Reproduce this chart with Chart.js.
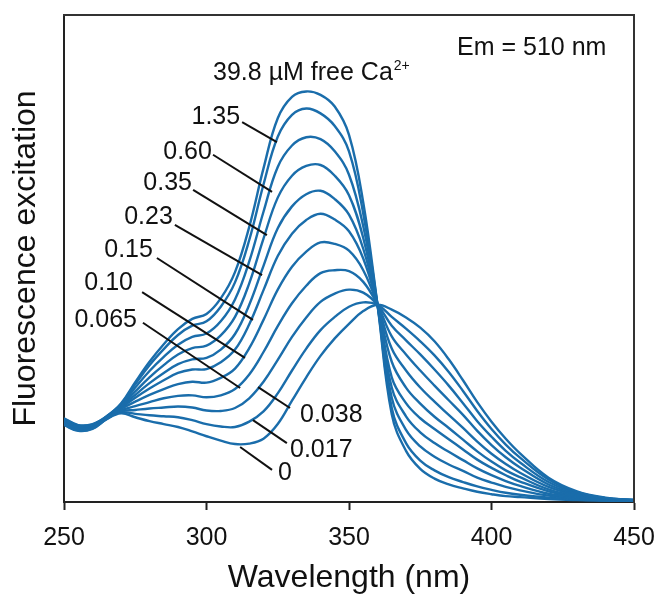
<!DOCTYPE html>
<html>
<head>
<meta charset="utf-8">
<script src="https://cdn.jsdelivr.net/npm/chart.js@4.4.1/dist/chart.umd.min.js"></script>
<style>
  html, body { margin: 0; padding: 0; background: #fff; }
</style>
</head>
<body>
<canvas id="grafico" width="659" height="594"></canvas>
<script>
// Longitudes de onda (nm)
const longitudes = [250,255,260,265,270,275,280,285,290,295,300,305,310,315,320,325,330,335,340,345,350,355,360,365,370,375,380,385,390,395,400,405,410,420,430,440,450];

// Espectros de excitación para cada concentración de Ca2+ libre (µM)
const ca0    = [15.8,14.6,15.0,17.0,18.2,17.4,16.6,16.0,15.4,14.5,13.5,12.6,11.9,12.0,13.0,16.0,20.8,25.6,30.0,33.6,36.6,39.2,40.5,39.5,37.9,35.8,33.0,29.3,25.0,20.5,16.5,13.0,10.0,5.0,2.2,0.9,0.4];
const ca0017 = [15.9,14.7,15.1,17.1,18.4,18.1,17.8,17.6,17.4,16.8,16.0,15.5,15.4,16.5,18.6,22.3,27.0,31.5,35.3,38.0,40.1,41.0,40.5,38.0,35.6,33.0,30.1,26.7,22.8,18.7,15.0,11.8,9.1,4.6,2.0,0.8,0.4];
const ca0038 = [16.1,14.9,15.2,17.1,18.6,18.9,19.2,19.4,19.6,19.4,18.8,18.7,19.3,21.3,24.7,29.2,33.9,37.9,41.1,42.8,43.6,43.0,40.5,36.2,33.2,30.3,27.2,23.9,20.3,16.6,13.4,10.5,8.1,4.1,1.8,0.8,0.4];
const ca0065 = [16.2,15.0,15.3,17.2,18.8,19.7,20.5,21.3,21.8,21.9,21.5,21.9,23.2,26.2,30.8,36.1,40.8,44.4,47.0,47.6,47.4,45.2,40.5,34.0,30.3,27.0,23.9,20.9,17.9,14.6,11.7,9.2,7.1,3.6,1.6,0.7,0.3];
const ca010  = [16.4,15.1,15.4,17.3,19.1,20.6,22.0,23.2,24.2,24.7,24.5,25.5,27.4,31.6,37.4,43.6,48.3,51.4,53.3,53.0,51.6,47.6,40.5,31.5,27.0,23.5,20.6,17.9,15.2,12.4,9.9,7.8,6.0,3.1,1.4,0.6,0.3];
const ca015  = [16.6,15.3,15.6,17.3,19.3,21.4,23.3,25.0,26.5,27.2,27.3,28.7,31.3,36.5,43.5,50.5,55.1,57.9,59.2,58.0,55.6,50.0,40.5,28.8,23.5,20.2,17.5,15.2,12.8,10.4,8.3,6.5,5.1,2.6,1.2,0.6,0.3];
const ca023  = [16.7,15.4,15.6,17.4,19.5,22.0,24.4,26.5,28.3,29.3,29.6,31.3,34.5,40.5,48.5,56.2,60.7,63.2,63.9,62.2,59.0,52.0,40.5,25.6,20.3,17.2,15.0,12.9,10.8,8.7,7.0,5.5,4.2,2.2,1.0,0.5,0.3];
const ca035  = [16.8,15.5,15.7,17.4,19.7,22.7,25.6,28.1,30.3,31.6,32.1,34.2,38.0,44.9,54.1,62.5,67.0,69.0,69.2,67.0,63.0,54.2,40.5,23.5,17.6,14.3,12.1,10.3,8.6,6.9,5.5,4.3,3.3,1.7,0.9,0.5,0.3];
const ca060  = [17.0,15.6,15.8,17.5,19.9,23.5,26.9,29.8,32.3,33.9,34.6,37.1,41.6,49.4,59.6,68.8,73.2,74.9,74.5,72.0,67.2,56.6,40.5,21.4,14.8,11.4,9.3,7.7,6.4,5.0,4.0,3.1,2.4,1.3,0.7,0.4,0.2];
const ca135  = [17.1,15.7,15.9,17.6,20.1,24.2,28.1,31.4,34.3,36.2,37.1,40.1,45.1,53.8,65.2,75.0,79.5,80.8,79.8,77.2,72.0,59.2,40.5,19.3,12.1,8.5,6.5,5.1,4.1,3.2,2.5,1.9,1.5,0.9,0.5,0.3,0.2];
const ca398  = [17.2,15.8,16.0,17.6,20.2,24.6,28.8,32.4,35.5,37.6,38.6,41.8,47.2,56.5,68.5,78.8,83.2,84.3,83.6,81.2,75.4,61.5,40.5,18.0,10.5,6.8,4.8,3.6,2.8,2.1,1.6,1.2,1.0,0.6,0.4,0.3,0.2];

const nombresSeries = ['0','0.017','0.038','0.065','0.10','0.15','0.23','0.35','0.60','1.35','39.8'];
const valoresSeries = [ca0, ca0017, ca0038, ca0065, ca010, ca015, ca023, ca035, ca060, ca135, ca398];

// Etiquetas de las curvas (texto) y su colocación en unidades de datos
const etiquetasCurvas = ['1.35','0.60','0.35','0.23','0.15','0.10','0.065','0.038','0.017','0'];
const posEtiquetas = [
    [311.8, 79.1, 'right'], [301.9, 71.9, 'right'], [294.9, 65.5, 'right'], [288.2, 58.5, 'right'],
    [281.2, 51.7, 'right'], [274.2, 45.0, 'right'], [275.6, 37.4, 'right'],
    [332.8, 17.9, 'left'], [329.3, 10.7, 'left'], [325.1, 6.0, 'left']
];
// Líneas guía: x1, y1, x2, y2 (datos)
const lineasGuia = [
    [312.5, 78.0, 324.7, 73.9], [302.3, 71.3, 323.0, 63.7], [295.3, 64.1, 321.2, 54.8],
    [288.9, 56.9, 319.5, 46.6], [282.6, 50.1, 316.3, 37.4], [277.4, 43.1, 313.5, 29.6],
    [277.7, 36.8, 311.8, 23.4], [318.1, 23.6, 329.3, 19.3], [316.3, 16.8, 328.2, 12.1],
    [311.8, 11.3, 323.0, 6.6]
];

const fuente = '"Liberation Sans", Arial, Helvetica, sans-serif';
const azul = '#1a6dab';

// Plugin: marco superior/derecho, líneas guía y textos
const anotaciones = {
    id: 'anotaciones',
    afterDatasetsDraw(chart) {
        const { ctx, chartArea: a, scales: { x, y } } = chart;
        ctx.save();

        ctx.strokeStyle = '#333';
        ctx.lineWidth = 2;
        ctx.beginPath();
        ctx.moveTo(a.left - 1, a.top);
        ctx.lineTo(a.right, a.top);
        ctx.lineTo(a.right, a.bottom + 1);
        ctx.stroke();

        ctx.strokeStyle = '#111';
        ctx.lineWidth = 2;
        lineasGuia.forEach(l => {
            ctx.beginPath();
            ctx.moveTo(x.getPixelForValue(l[0]), y.getPixelForValue(l[1]));
            ctx.lineTo(x.getPixelForValue(l[2]), y.getPixelForValue(l[3]));
            ctx.stroke();
        });

        ctx.fillStyle = '#111';
        ctx.textBaseline = 'middle';
        ctx.font = '25px ' + fuente;
        etiquetasCurvas.forEach((t, i) => {
            const p = posEtiquetas[i];
            ctx.textAlign = p[2];
            ctx.fillText(t, x.getPixelForValue(p[0]), y.getPixelForValue(p[1]));
        });

        // 39.8 µM free Ca2+
        ctx.textAlign = 'left';
        ctx.font = '25px ' + fuente;
        const tx = x.getPixelForValue(302.3), ty = y.getPixelForValue(88.1);
        const principal = '39.8 µM free Ca';
        ctx.fillText(principal, tx, ty);
        const w = ctx.measureText(principal).width;
        ctx.font = '14px ' + fuente;
        ctx.fillText('2+', tx + w + 1, ty - 7);

        ctx.font = '25px ' + fuente;
        ctx.fillText('Em = 510 nm', x.getPixelForValue(387.9), y.getPixelForValue(93.2));

        ctx.restore();
    }
};

let miGrafico = null;

function crearGrafico() {
    const ctx = document.getElementById('grafico').getContext('2d');
    if (miGrafico) {
        miGrafico.destroy();
    }
    miGrafico = new Chart(ctx, {
        type: 'line',
        data: {
            datasets: valoresSeries.map((vals, i) => ({
                label: nombresSeries[i],
                data: longitudes.map((l, j) => ({ x: l, y: vals[j] })),
                borderColor: azul,
                borderWidth: 2.4,
                pointRadius: 0,
                fill: false,
                tension: 0.4
            }))
        },
        options: {
            responsive: false,
            animation: false,
            layout: { padding: { top: 15, right: 25, left: 0, bottom: 0 } },
            plugins: { legend: { display: false }, tooltip: { enabled: false } },
            scales: {
                x: {
                    type: 'linear',
                    min: 250,
                    max: 450,
                    ticks: { stepSize: 50, padding: 13, color: '#111', font: { family: fuente, size: 25 } },
                    grid: { display: true, drawOnChartArea: false, tickLength: 8, tickWidth: 2, tickColor: '#222' },
                    border: { display: true, color: '#222', width: 2 },
                    title: {
                        display: true,
                        text: 'Wavelength (nm)',
                        color: '#111',
                        font: { family: fuente, size: 32, lineHeight: 1 },
                        padding: { top: 0, bottom: 0 }
                    },
                    afterFit(s) { s.height = 92; s.paddingLeft = 0; s.paddingRight = 0; }
                },
                y: {
                    min: 0,
                    max: 100,
                    ticks: { display: false },
                    grid: { display: false },
                    border: { display: true, color: '#222', width: 2 },
                    title: {
                        display: true,
                        text: 'Fluorescence excitation',
                        color: '#111',
                        font: { family: fuente, size: 32, lineHeight: 1 },
                        padding: { top: 10, bottom: 0 }
                    },
                    afterFit(s) { s.width = 64; }
                }
            }
        },
        plugins: [anotaciones]
    });
}

document.addEventListener('DOMContentLoaded', crearGrafico);
</script>
</body>
</html>
